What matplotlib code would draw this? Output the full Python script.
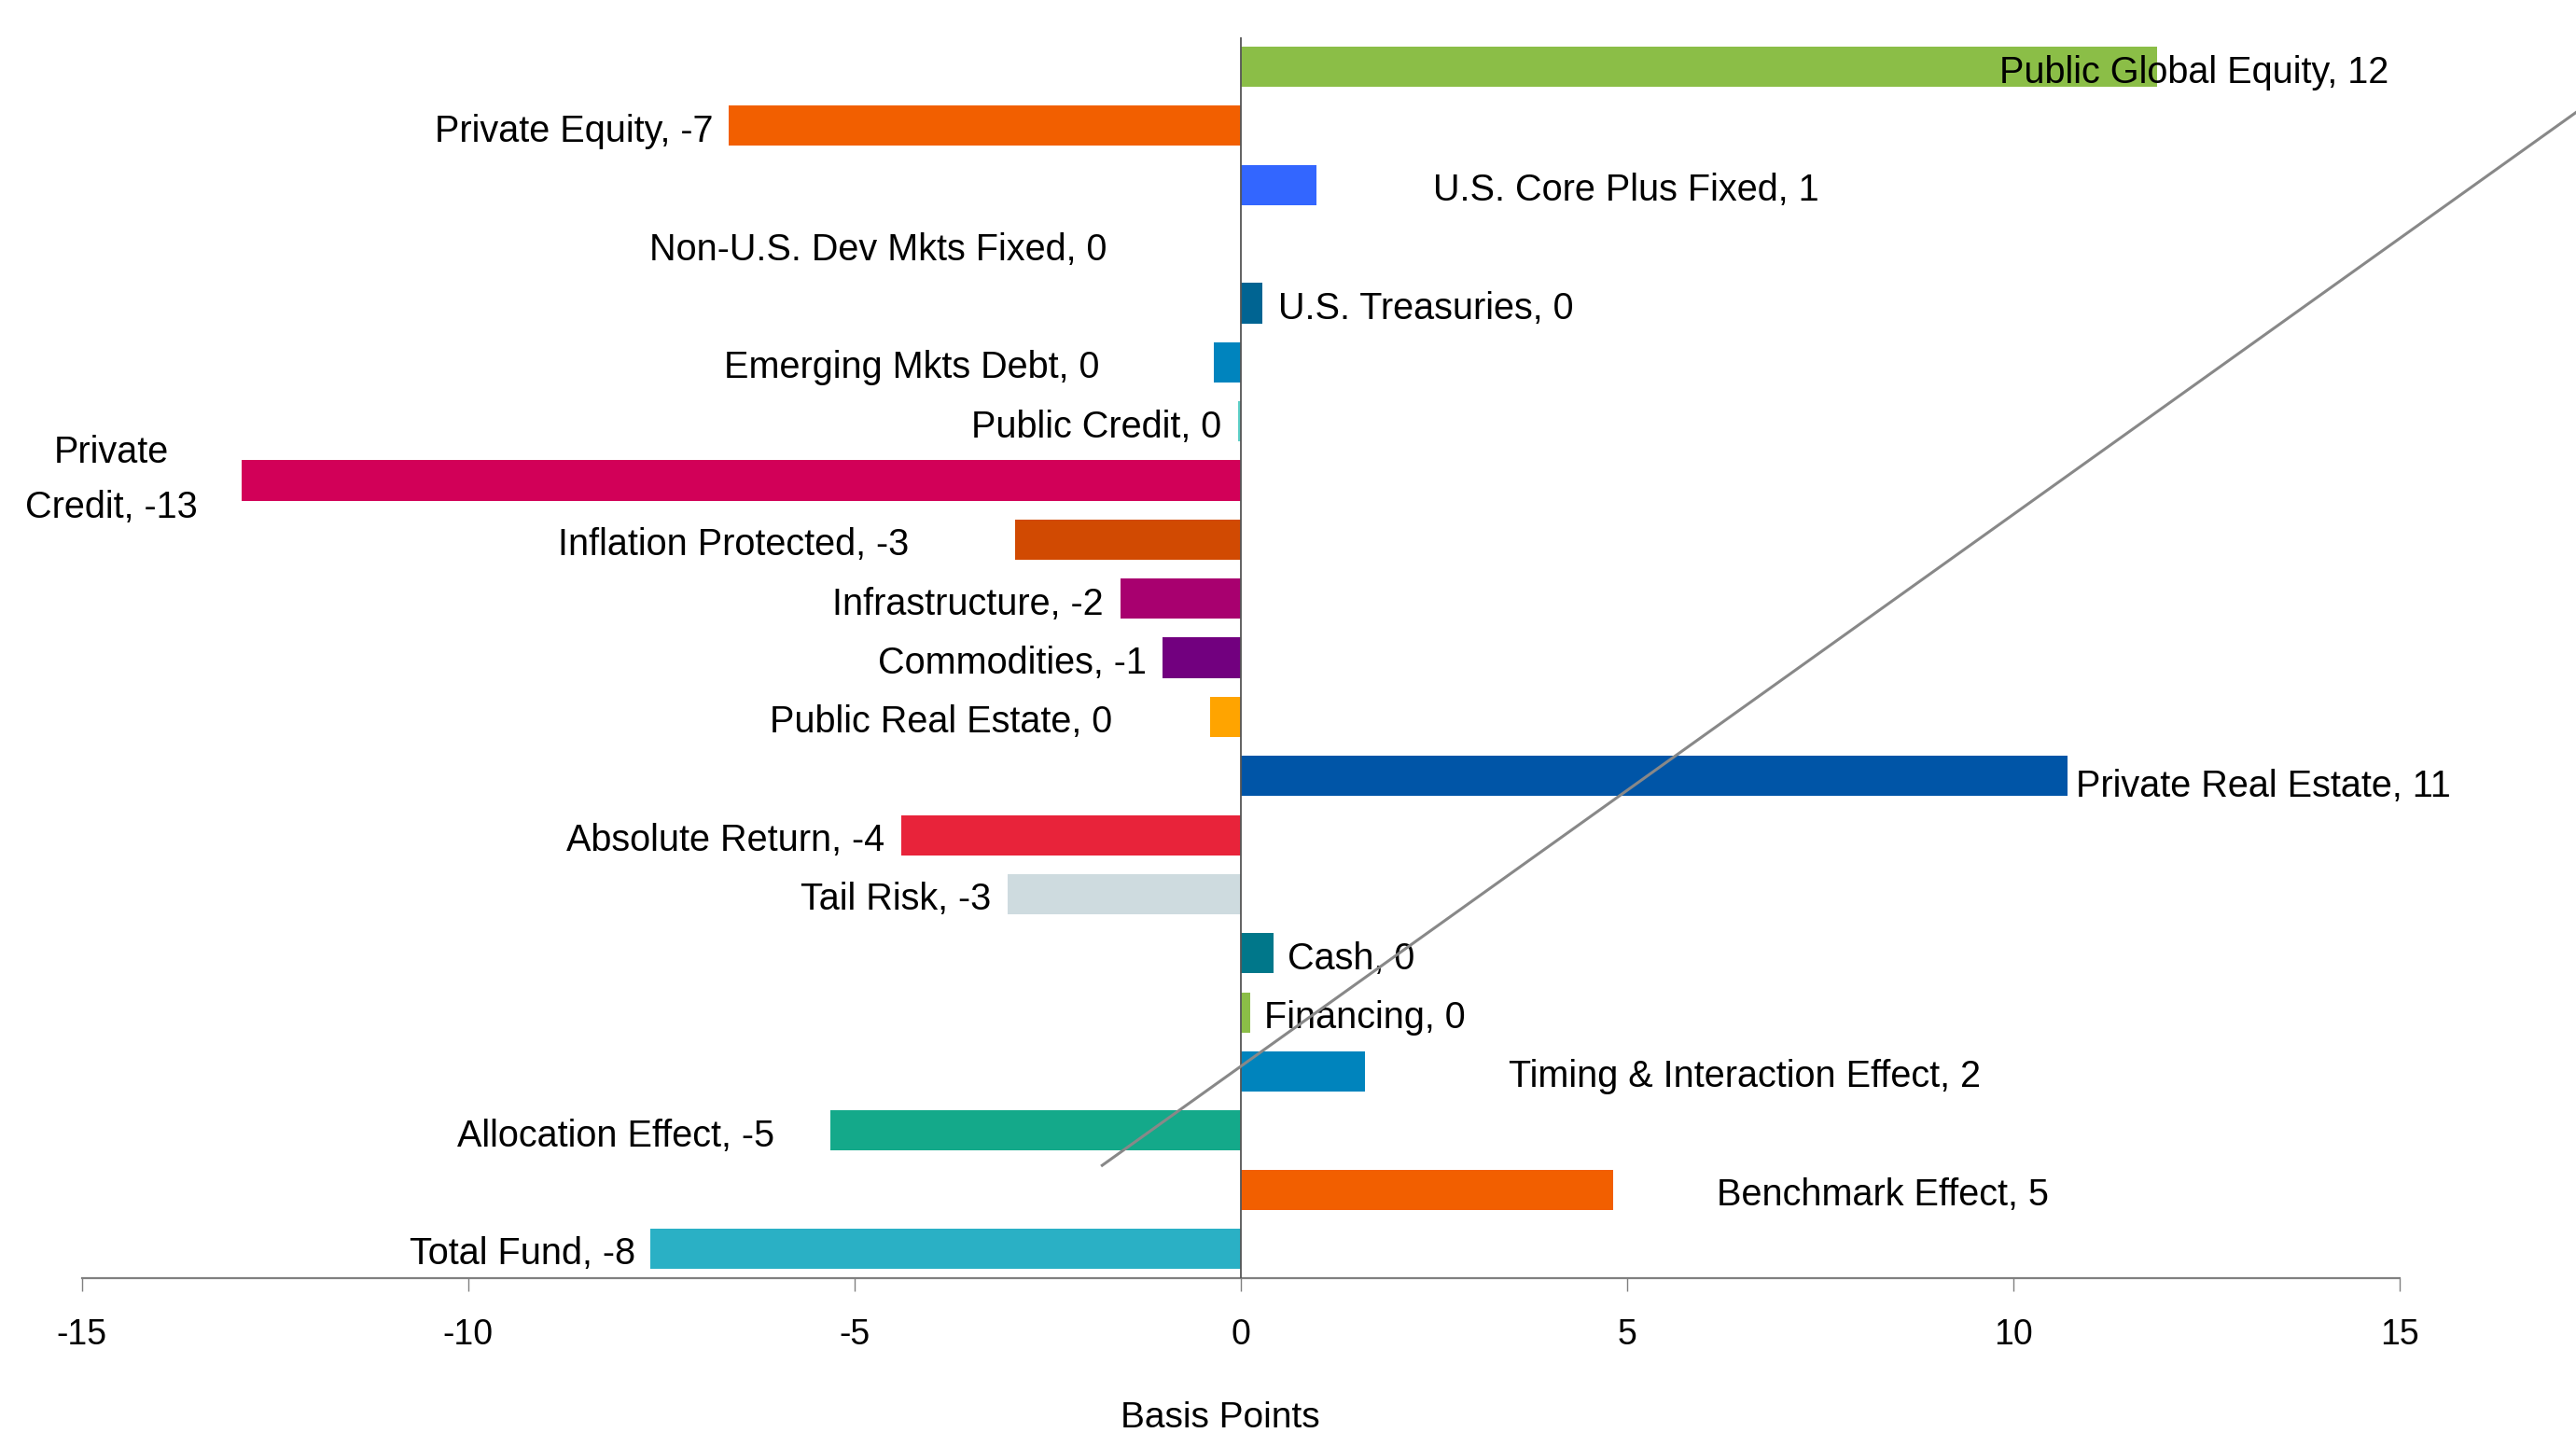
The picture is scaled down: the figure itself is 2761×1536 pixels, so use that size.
import matplotlib

matplotlib.use("Agg")
import matplotlib.pyplot as plt

plt.rcParams["font.family"] = ["Liberation Sans", "DejaVu Sans"]
plt.rcParams["axes.unicode_minus"] = False

# attribution by asset class, basis points
categories = [
    "Public Global Equity", "Private Equity", "U.S. Core Plus Fixed",
    "Non-U.S. Dev Mkts Fixed", "U.S. Treasuries", "Emerging Mkts Debt",
    "Public Credit", "Private Credit", "Inflation Protected", "Infrastructure",
    "Commodities", "Public Real Estate", "Private Real Estate", "Absolute Return",
    "Tail Risk", "Cash", "Financing", "Timing & Interaction Effect",
    "Allocation Effect", "Benchmark Effect", "Total Fund",
]
values = [
    11.87, -6.62, 0.98, 0.0, 0.28, -0.34, -0.03, -12.93, -2.92, -1.55,
    -1.01, -0.39, 10.71, -4.39, -3.01, 0.43, 0.13, 1.61, -5.31, 4.82, -7.64,
]
shown = [12, -7, 1, 0, 0, 0, 0, -13, -3, -2, -1, 0, 11, -4, -3, 0, 0, 2, -5, 5, -8]
colors = [
    "#8BBE47", "#F25F00", "#3366FF", "#1A1A1A", "#006492", "#0084BE",
    "#5ECFC7", "#D20058", "#D14A02", "#A8006F", "#72007F", "#FFA400",
    "#0055A7", "#E8233A", "#CEDBDF", "#00778A", "#8BBE47", "#0084BD",
    "#14A98A", "#F25F00", "#2AB0C5",
]

# label placement (data units) and alignment, as in the source layout
label_x = [9.82, -6.83, 2.49, -1.73, 0.49, -1.82, -0.25, -14.61, -4.29, -1.77,
           -1.21, -1.66, 10.81, -4.61, -3.23, 0.61, 0.31, 3.47, -6.03, 6.17, -7.83]
label_ha = ["left", "right", "left", "right", "left", "right", "right", "center",
            "right", "right", "right", "right", "left", "right", "right", "left",
            "left", "left", "right", "left", "right"]
label_dy = [0.03] * len(categories)
label_dy[12] = 0.12

# stray grey connector line in the source
diag_x = [-1.79, 17.9]
diag_y = [18.59, 0.20]

fig = plt.figure(figsize=(27.61, 15.36), dpi=100)
ax = fig.add_axes([0.0317, 0.108, 0.8997, 0.866])

ypos = list(range(len(categories)))
ax.barh(ypos, values, height=0.68, color=colors, zorder=2)
ax.axvline(0, color="#555555", lw=1.3, zorder=3)

for i, (cat, v) in enumerate(zip(categories, shown)):
    if cat == "Private Credit":
        ax.text(label_x[i], i, f"Private\nCredit, {v}", ha="center", va="center",
                fontsize=28.5, linespacing=1.7, zorder=4)
    else:
        ax.text(label_x[i], i + label_dy[i], f"{cat}, {v}", ha=label_ha[i],
                va="center_baseline", fontsize=28.5, zorder=4)

ax.plot(diag_x, diag_y, color="#888888", lw=2.2, clip_on=False, zorder=5)

ax.set_xlim(-15, 15)
ax.set_ylim(len(categories) - 0.5, -0.5)
ax.set_xticks([-15, -10, -5, 0, 5, 10, 15])
ax.set_yticks([])
for s in ("top", "right", "left"):
    ax.spines[s].set_visible(False)
ax.spines["bottom"].set_color("#808080")
ax.spines["bottom"].set_linewidth(1.6)
ax.tick_params(axis="x", length=10, width=1.0, color="#808080", labelsize=27, pad=21)

fig.text(0.4737, 0.0104, "Basis Points", ha="center", va="center", fontsize=28)

fig.savefig("out.png", dpi=100, facecolor="white")
